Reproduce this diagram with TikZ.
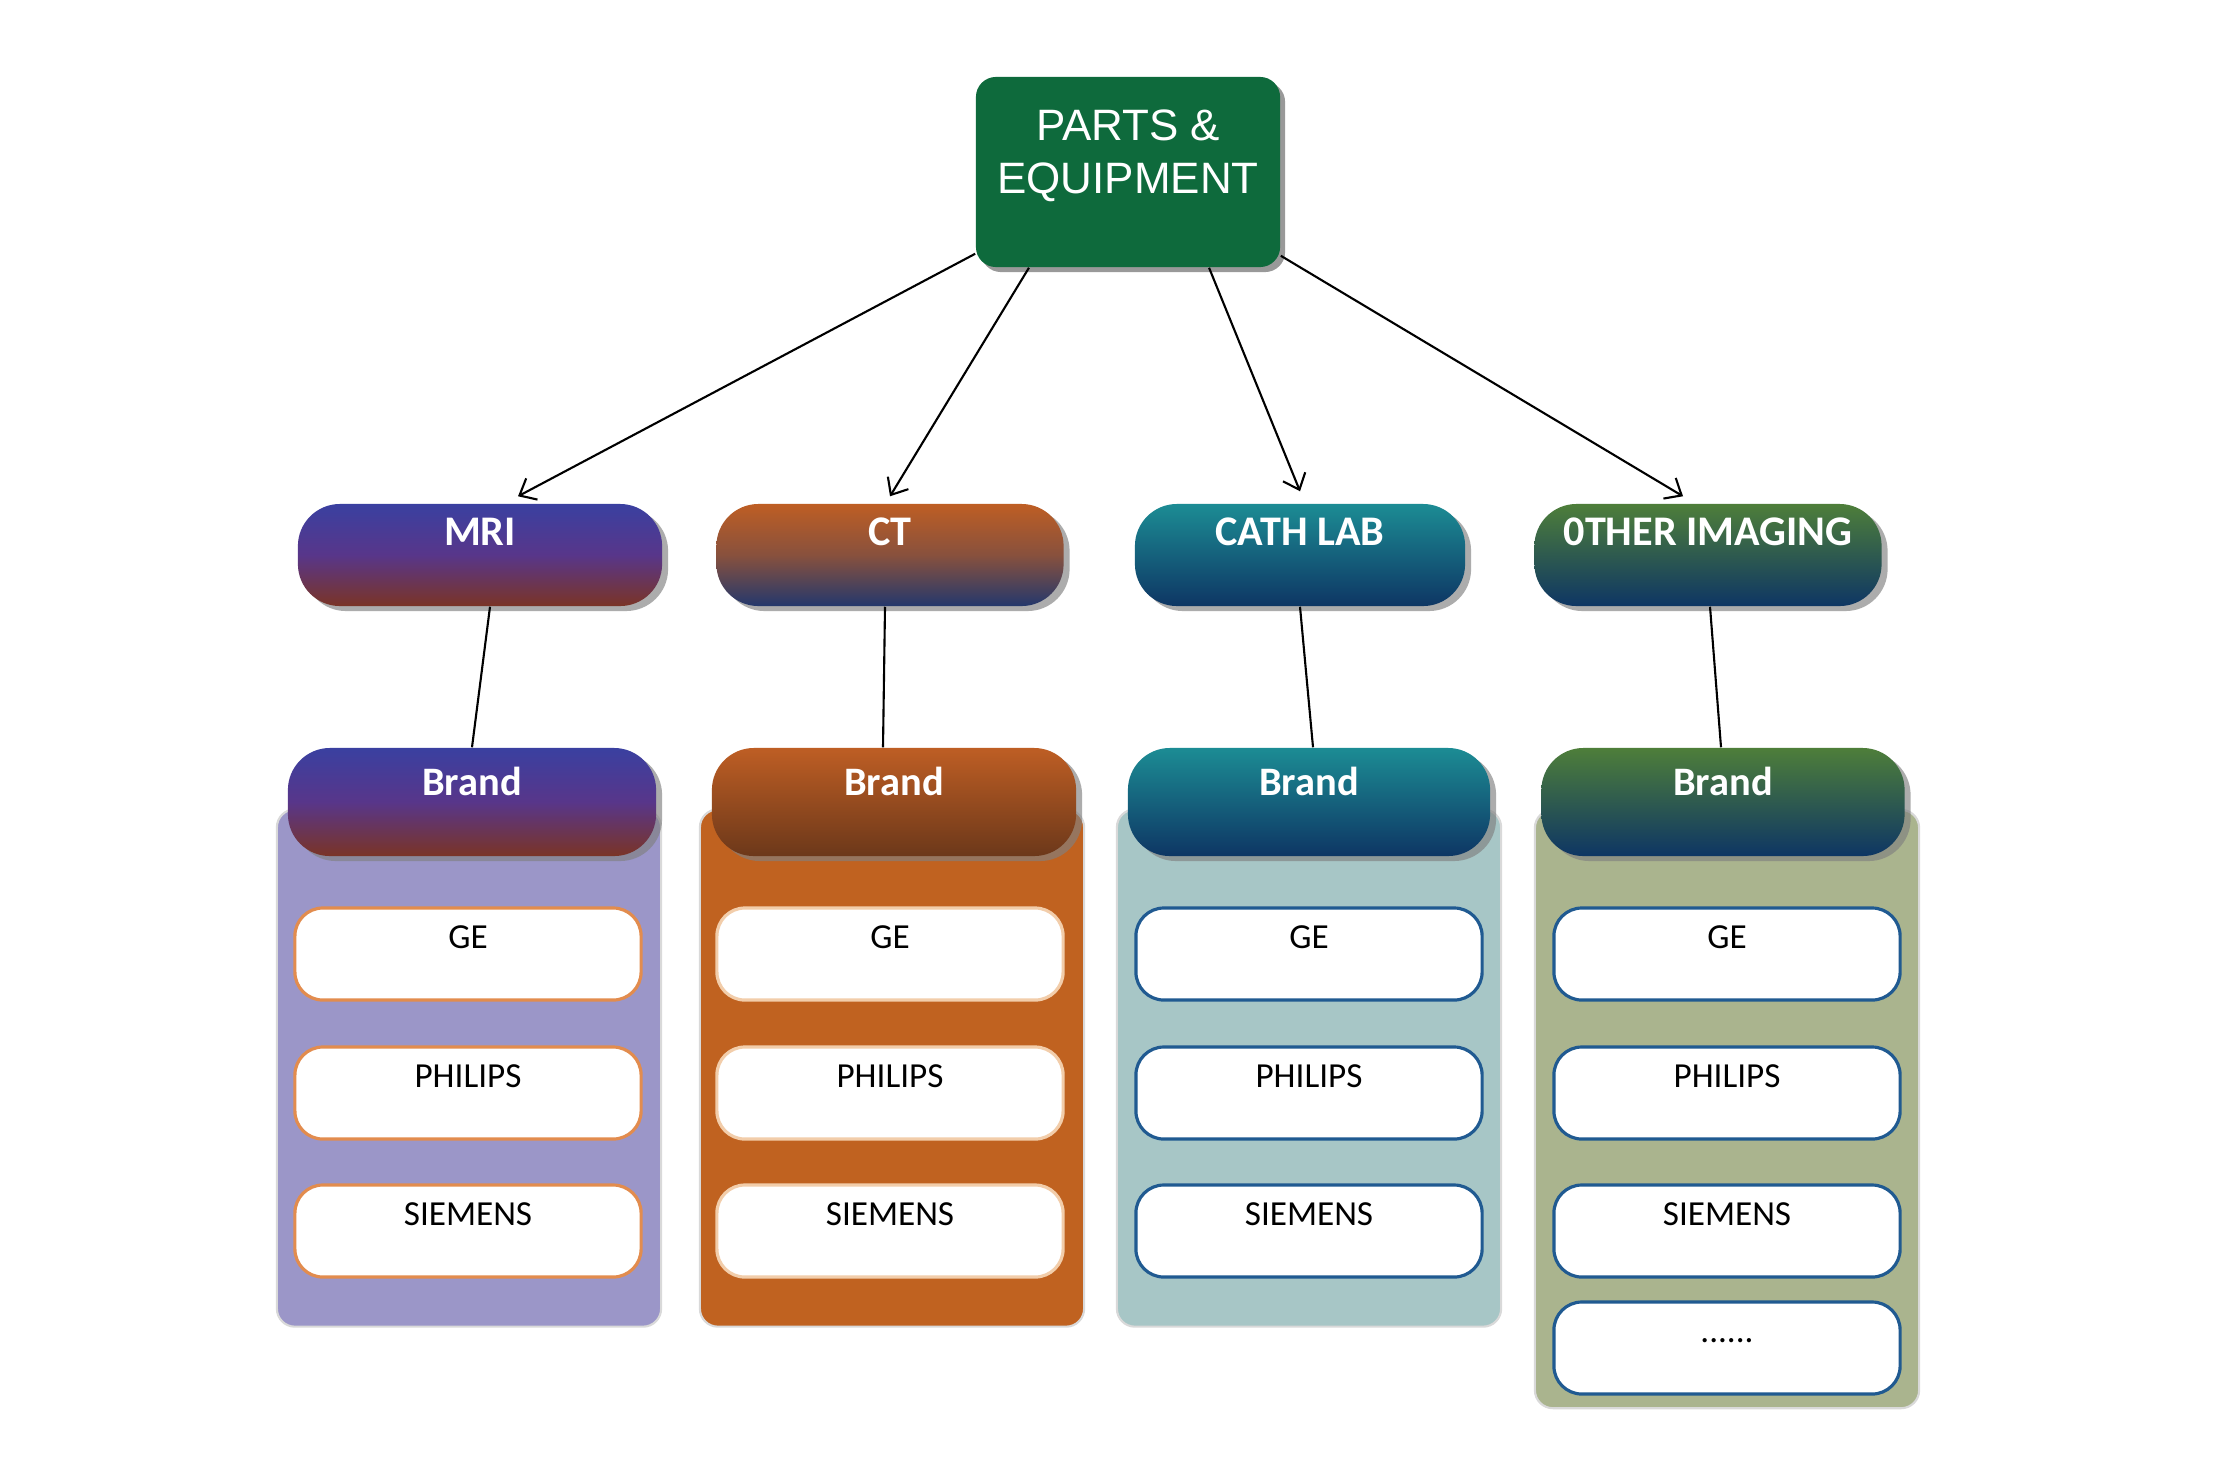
\documentclass[tikz,border=0pt]{standalone}
\usepackage{fontspec}
\setmainfont{Carlito}
\newfontfamily\headfont{Liberation Sans}
\usepackage{tikz}
\usetikzlibrary{shadows}
\usetikzlibrary{arrows.meta}

\definecolor{headgreen}{RGB}{14,106,60}
\definecolor{mriblue}{RGB}{58,64,160}
\definecolor{mripurple}{RGB}{88,54,138}
\definecolor{mribrown}{RGB}{122,52,38}
\definecolor{ctorange}{RGB}{190,94,36}
\definecolor{ctnavy}{RGB}{36,56,108}
\definecolor{ctbrown}{RGB}{108,56,26}
\definecolor{cathteal}{RGB}{28,140,148}
\definecolor{navy}{RGB}{14,54,100}
\definecolor{othgreen}{RGB}{78,126,58}
\definecolor{mripanel}{RGB}{155,150,200}
\definecolor{ctpanel}{RGB}{192,98,32}
\definecolor{cathpanel}{RGB}{167,198,198}
\definecolor{othpanel}{RGB}{170,180,142}
\definecolor{mriedge}{RGB}{226,140,78}
\definecolor{ctedge}{RGB}{242,205,170}
\definecolor{blueedge}{RGB}{32,90,145}

\begin{document}
\begin{tikzpicture}[x=0.01cm, y=-0.01cm,
    head/.style={rounded corners=0.2cm, fill=headgreen, text=white, minimum width=3.04cm,
        minimum height=1.9cm, inner ysep=0pt, text height=1.16cm, text depth=0.74cm,
        align=center, font=\headfont\fontsize{12.5}{15}\selectfont,
        drop shadow={shadow xshift=0.05cm, shadow yshift=-0.05cm, opacity=0.8}},
    cat/.style={rounded corners=0.42cm, minimum height=1.02cm, inner ysep=0pt,
        text height=0.415cm, text depth=0.605cm, text=white, font=\bfseries\fontsize{12}{14}\selectfont,
        drop shadow={shadow xshift=0.06cm, shadow yshift=-0.05cm, opacity=0.65}},
    brandpill/.style={cat, minimum height=1.08cm, text height=0.47cm, text depth=0.61cm,
        font=\bfseries\fontsize{11.5}{14}\selectfont},
    panel/.style={rounded corners=0.18cm, draw=gray!30, line width=0.6pt, minimum width=3.84cm},
    item/.style={rounded corners=0.28cm, fill=white, line width=0.9pt, minimum width=3.46cm,
        minimum height=0.92cm, inner ysep=0pt, text height=0.4cm, text depth=0.52cm,
        font=\fontsize{10}{12}\selectfont},
    link/.style={line width=0.6pt, black},
    arr/.style={link, -{Straight Barb[length=0.14cm, width=0.24cm]}}
]
\path[use as bounding box, fill=white] (0,0) rectangle (2225,1481);

% ---------------- Panels ----------------
\node[panel, fill=mripanel, minimum height=5.17cm] (mripanel) at (469,1068) {};
\node[panel, fill=ctpanel, minimum height=5.17cm] (ctpanel) at (892,1068) {};
\node[panel, fill=cathpanel, minimum height=5.17cm] (cathpanel) at (1309,1068) {};
\node[panel, fill=othpanel, minimum height=5.98cm] (othpanel) at (1727,1109) {};

% ---------------- Brand items ----------------
\node[item, draw=mriedge] (mrige) at (468,954) {GE};
\node[item, draw=mriedge] (mriphilips) at (468,1093) {PHILIPS};
\node[item, draw=mriedge] (mrisiemens) at (468,1231) {SIEMENS};

\node[item, draw=ctedge] (ctge) at (890,954) {GE};
\node[item, draw=ctedge] (ctphilips) at (890,1093) {PHILIPS};
\node[item, draw=ctedge] (ctsiemens) at (890,1231) {SIEMENS};

\node[item, draw=blueedge] (cathge) at (1309,954) {GE};
\node[item, draw=blueedge] (cathphilips) at (1309,1093) {PHILIPS};
\node[item, draw=blueedge] (cathsiemens) at (1309,1231) {SIEMENS};

\node[item, draw=blueedge] (othge) at (1727,954) {GE};
\node[item, draw=blueedge] (othphilips) at (1727,1093) {PHILIPS};
\node[item, draw=blueedge] (othsiemens) at (1727,1231) {SIEMENS};
\node[item, draw=blueedge] (othdots) at (1727,1348) {......};

% ---------------- Brand headers ----------------
\node[brandpill, top color=mriblue, bottom color=mribrown, middle color=mripurple, minimum width=3.68cm] (mribrand) at (472,802) {Brand};
\node[brandpill, top color=ctorange, bottom color=ctbrown, minimum width=3.64cm] (ctbrand) at (894,802) {Brand};
\node[brandpill, top color=cathteal, bottom color=navy, minimum width=3.62cm] (cathbrand) at (1309,802) {Brand};
\node[brandpill, top color=othgreen, bottom color=navy, minimum width=3.63cm] (othbrand) at (1723,802) {Brand};

% ---------------- Categories ----------------
\node[cat, top color=mriblue, bottom color=mribrown, middle color=mripurple, minimum width=3.64cm] (mri) at (480,555) {MRI};
\node[cat, top color=ctorange, bottom color=ctnavy, middle color=ctorange!65!ctnavy, minimum width=3.47cm] (ct) at (890,555) {CT};
\node[cat, top color=cathteal, bottom color=navy, minimum width=3.30cm] (cath) at (1300,555) {CATH LAB};
\node[cat, top color=othgreen, bottom color=navy, minimum width=3.47cm] (oth) at (1708,555) {0THER IMAGING};

% ---------------- Root ----------------
\node[head] (top) at (1128,172) {PARTS \&\\EQUIPMENT};

% ---------------- Connectors ----------------
\draw[arr] ([yshift=0.14cm]top.south west) -- ([xshift=0.38cm, yshift=0.07cm]mri.north);
\draw[arr] ([xshift=-0.99cm]top.south) -- ([yshift=0.07cm]ct.north);
\draw[arr] ([xshift=0.81cm]top.south) -- ([yshift=0.12cm]cath.north);
\draw[arr] ([yshift=0.12cm]top.south east) -- ([xshift=-0.25cm, yshift=0.07cm]oth.north);

\draw[link] ([xshift=0.1cm]mri.south) -- (mribrand.north);
\draw[link] ([xshift=-0.05cm]ct.south) -- ([xshift=-0.11cm]ctbrand.north);
\draw[link] (cath.south) -- ([xshift=0.04cm]cathbrand.north);
\draw[link] ([xshift=0.02cm]oth.south) -- ([xshift=-0.02cm]othbrand.north);

\end{tikzpicture}
\end{document}
